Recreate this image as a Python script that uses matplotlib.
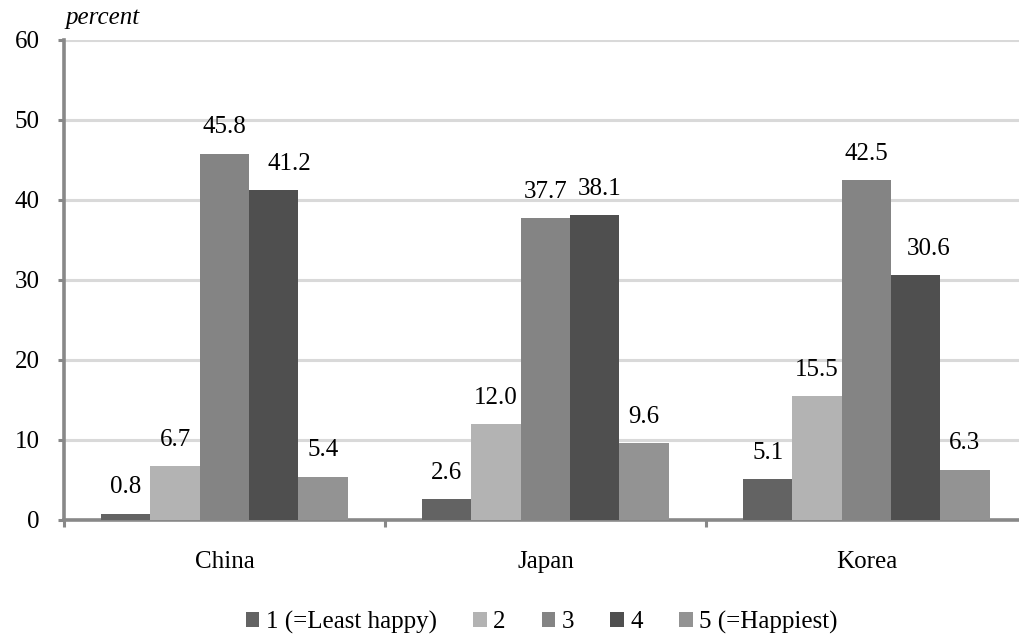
import numpy as np
import matplotlib.pyplot as plt

plt.rcParams['font.family'] = ['Liberation Serif', 'DejaVu Serif']

countries = ['China', 'Japan', 'Korea']
levels = ['1 (=Least happy)', '2', '3', '4', '5 (=Happiest)']
shares = [
    [0.8, 2.6, 5.1],
    [6.7, 12.0, 15.5],
    [45.8, 37.7, 42.5],
    [41.2, 38.1, 30.6],
    [5.4, 9.6, 6.3],
]
colors = ['#636363', '#b3b3b3', '#848484', '#4f4f4f', '#939393']
# sideways nudge (points) for the labels of level 4, so they clear the taller bar
nudge4 = [11.5, 3.5, 9.5]

fig = plt.figure(figsize=(10.2, 6.4), dpi=100)
ax = fig.add_axes([0.0627, 0.1875, 0.944, 0.75])

x = np.arange(len(countries))
w = 0.1536
for i, vals in enumerate(shares):
    pos = x + (i - 2) * w
    bars = ax.bar(pos, vals, width=w, color=colors[i], label=levels[i], zorder=3)
    for j, (b, v) in enumerate(zip(bars, vals)):
        dx = nudge4[j] if i == 3 else 0
        ax.annotate(f'{v:.1f}', (b.get_x() + b.get_width() / 2, v),
                    xytext=(dx, 19), textcoords='offset points',
                    ha='center', va='center', fontsize=18)

ax.set_xlim(-0.5, 2.5)
ax.set_ylim(0, 60)
ax.set_yticks(range(0, 61, 10))
ax.yaxis.grid(True, color='#d9d9d9', linewidth=2.2, zorder=0)
ax.tick_params(axis='y', labelsize=18, length=4.5, width=2.2, color='#888888', pad=13)

ax.set_xticks([-0.5, 0.5, 1.5, 2.5])
ax.set_xticklabels([])
ax.set_xticks(x, minor=True)
ax.set_xticklabels(countries, minor=True)
ax.tick_params(axis='x', which='major', length=5, width=2.2, color='#888888')
ax.tick_params(axis='x', which='minor', length=0, labelsize=18, pad=22)

for s in ['top', 'right']:
    ax.spines[s].set_visible(False)
for s in ['left', 'bottom']:
    ax.spines[s].set_color('#888888')
    ax.spines[s].set_linewidth(2.6)

fig.text(0.064, 0.972, 'percent', fontsize=18, style='italic', ha='left', va='center')

fig.legend(loc='center', bbox_to_anchor=(0.531, 0.028), ncol=5, frameon=False,
           fontsize=18, handlelength=0.55, handleheight=0.55, handletextpad=0.25,
           columnspacing=1.45)

fig.savefig('out.png', dpi=100)
